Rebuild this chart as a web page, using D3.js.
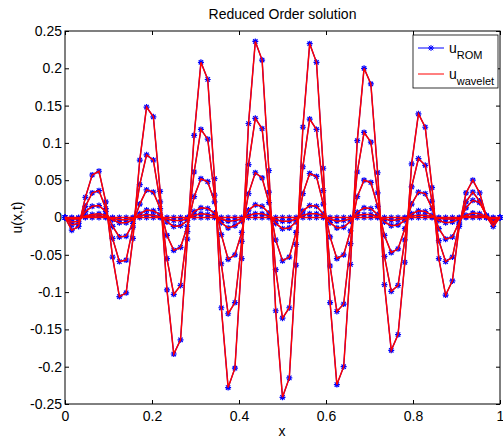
<!DOCTYPE html>
<html>
<head>
<meta charset="utf-8">
<script src="https://cdn.jsdelivr.net/npm/d3@7"></script>
<style>
  body { margin: 0; background: #fff; }
  text { font-family: "Liberation Sans", Arial, sans-serif; }
</style>
</head>
<body>
<div class="svgContainer"></div>
<script>
let xValues = [
  0, 0.015625, 0.03125, 0.046875, 0.0625, 0.078125, 0.09375, 0.109375,
  0.125, 0.140625, 0.15625, 0.171875, 0.1875, 0.203125, 0.21875, 0.234375,
  0.25, 0.265625, 0.28125, 0.296875, 0.3125, 0.328125, 0.34375, 0.359375,
  0.375, 0.390625, 0.40625, 0.421875, 0.4375, 0.453125, 0.46875, 0.484375,
  0.5, 0.515625, 0.53125, 0.546875, 0.5625, 0.578125, 0.59375, 0.609375,
  0.625, 0.640625, 0.65625, 0.671875, 0.6875, 0.703125, 0.71875, 0.734375,
  0.75, 0.765625, 0.78125, 0.796875, 0.8125, 0.828125, 0.84375, 0.859375,
  0.875, 0.890625, 0.90625, 0.921875, 0.9375, 0.953125, 0.96875, 0.984375,
  1
];

// snapshots of u(x,t), largest first
let snap1 = [
  0, -0.017, -0.012, 0.027, 0.057, 0.062, 0.021, -0.053,
  -0.106, -0.101, -0.028, 0.077, 0.148, 0.135, 0.035, -0.097,
  -0.183, -0.164, -0.029, 0.110, 0.208, 0.185, 0.052, -0.121,
  -0.228, -0.202, -0.055, 0.126, 0.236, 0.211, 0.063, -0.125,
  -0.241, -0.215, -0.064, 0.121, 0.233, 0.208, 0.066, -0.114,
  -0.224, -0.200, -0.063, 0.103, 0.200, 0.179, 0.060, -0.090,
  -0.178, -0.157, -0.060, 0.072, 0.139, 0.121, 0.040, -0.055,
  -0.104, -0.085, -0.012, 0.033, 0.050, 0.033, 0.001, -0.012,
  0
];
let snap2 = [
  0, -0.010, -0.008, 0.015, 0.033, 0.036, 0.012, -0.028,
  -0.059, -0.057, -0.013, 0.044, 0.084, 0.077, 0.021, -0.055,
  -0.103, -0.091, -0.019, 0.061, 0.118, 0.105, 0.030, -0.062,
  -0.129, -0.114, -0.032, 0.071, 0.133, 0.119, 0.034, -0.070,
  -0.135, -0.121, -0.036, 0.068, 0.132, 0.118, 0.036, -0.065,
  -0.126, -0.116, -0.035, 0.061, 0.114, 0.101, 0.033, -0.052,
  -0.099, -0.091, -0.030, 0.041, 0.079, 0.070, 0.022, -0.031,
  -0.059, -0.053, -0.009, 0.021, 0.034, 0.022, 0.002, -0.008,
  0
];
let snap3 = [
  0, -0.006, -0.005, 0.008, 0.015, 0.016, 0.008, -0.012,
  -0.026, -0.025, -0.008, 0.018, 0.037, 0.034, 0.012, -0.024,
  -0.044, -0.040, -0.012, 0.028, 0.052, 0.048, 0.021, -0.023,
  -0.056, -0.050, -0.020, 0.032, 0.060, 0.053, 0.020, -0.030,
  -0.058, -0.053, -0.020, 0.032, 0.059, 0.055, 0.018, -0.026,
  -0.055, -0.050, -0.018, 0.028, 0.050, 0.047, 0.015, -0.024,
  -0.047, -0.042, -0.015, 0.018, 0.034, 0.032, 0.012, -0.015,
  -0.029, -0.026, -0.006, 0.013, 0.023, 0.020, 0.003, -0.006,
  0
];
let snap4 = [
  0, -0.002, -0.002, 0.002, 0.004, 0.005, 0.003, -0.003,
  -0.007, -0.007, -0.003, 0.005, 0.010, 0.009, 0.004, -0.006,
  -0.012, -0.011, -0.004, 0.008, 0.013, 0.012, 0.006, -0.007,
  -0.014, -0.011, -0.005, 0.010, 0.017, 0.015, 0.006, -0.008,
  -0.015, -0.014, -0.006, 0.009, 0.016, 0.015, 0.005, -0.007,
  -0.014, -0.013, -0.005, 0.007, 0.013, 0.012, 0.004, -0.006,
  -0.011, -0.010, -0.004, 0.005, 0.009, 0.008, 0.003, -0.004,
  -0.007, -0.006, -0.002, 0.003, 0.006, 0.005, 0.001, -0.002,
  0
];
let snap5 = [
  0, -0.001, -0.001, 0.001, 0.002, 0.002, 0.001, -0.001,
  -0.003, -0.003, -0.001, 0.002, 0.004, 0.003, 0.001, -0.002,
  -0.004, -0.004, -0.001, 0.003, 0.005, 0.004, 0.002, -0.002,
  -0.005, -0.004, -0.002, 0.003, 0.005, 0.005, 0.002, -0.003,
  -0.005, -0.005, -0.002, 0.003, 0.005, 0.005, 0.002, -0.002,
  -0.005, -0.004, -0.002, 0.003, 0.004, 0.004, 0.001, -0.002,
  -0.004, -0.003, -0.001, 0.002, 0.003, 0.003, 0.001, -0.001,
  -0.002, -0.002, -0.001, 0.001, 0.002, 0.002, 0, -0.001,
  0
];
let snap6 = [
  0, 0, 0, 0, 0, 0, 0, 0,
  0, 0, 0, 0, 0, 0, 0, 0,
  0, 0, 0, 0, 0, 0, 0, 0,
  0, 0, 0, 0, 0, 0, 0, 0,
  0, 0, 0, 0, 0, 0, 0, 0,
  0, 0, 0, 0, 0, 0, 0, 0,
  0, 0, 0, 0, 0, 0, 0, 0,
  0, 0, 0, 0, 0, 0, 0, 0,
  0
];

let uRom = [snap6, snap5, snap4, snap3, snap2, snap1];
let uWavelet = [snap6, snap5, snap4, snap3, snap2, snap1];

let xTicks = [0, 0.2, 0.4, 0.6, 0.8, 1];
let xTickLabels = ["0", "0.2", "0.4", "0.6", "0.8", "1"];
let yTicks = [-0.25, -0.2, -0.15, -0.1, -0.05, 0, 0.05, 0.1, 0.15, 0.2, 0.25];
let yTickLabels = ["-0.25", "-0.2", "-0.15", "-0.1", "-0.05", "0", "0.05", "0.1", "0.15", "0.2", "0.25"];

let w = 503;
let h = 442;
let padLeft = 65, padRight = 500, padTop = 31, padBottom = 404;

let xScale = d3.scaleLinear().domain([0, 1]).range([padLeft, padRight]);
let yScale = d3.scaleLinear().domain([-0.25, 0.25]).range([padBottom, padTop]);

const svg = d3.select(".svgContainer")
    .append("svg")
    .attr("width", w)
    .attr("height", h)
    .style("display", "block")
    .style("background-color", "white");

const xLabel = (d) => xTickLabels[xTicks.indexOf(d)];
const yLabel = (d) => yTickLabels[yTicks.indexOf(d)];

svg.append("g")
    .attr("transform", `translate(0, ${padBottom})`)
    .call(d3.axisBottom(xScale).tickValues(xTicks).tickFormat(xLabel)
        .tickSizeInner(-4).tickSizeOuter(0).tickPadding(7));
svg.append("g")
    .attr("transform", `translate(0, ${padTop})`)
    .call(d3.axisTop(xScale).tickValues(xTicks).tickFormat("")
        .tickSizeInner(-4).tickSizeOuter(0));
svg.append("g")
    .attr("transform", `translate(${padLeft}, 0)`)
    .call(d3.axisLeft(yScale).tickValues(yTicks).tickFormat(yLabel)
        .tickSizeInner(-4).tickSizeOuter(0).tickPadding(3));
svg.append("g")
    .attr("transform", `translate(${padRight}, 0)`)
    .call(d3.axisRight(yScale).tickValues(yTicks).tickFormat("")
        .tickSizeInner(-4).tickSizeOuter(0));

svg.selectAll(".domain").remove();
svg.selectAll(".tick line").attr("stroke", "#000");
svg.selectAll(".tick text")
    .attr("fill", "#000")
    .style("font-size", "14px")
    .style("font-family", "'Liberation Sans', Arial, sans-serif");

svg.append("rect")
    .attr("x", padLeft)
    .attr("y", padTop)
    .attr("width", padRight - padLeft)
    .attr("height", padBottom - padTop)
    .attr("fill", "none")
    .attr("stroke", "#000")
    .attr("stroke-width", 1);

let line = d3.line()
    .x((d, i) => xScale(xValues[i]))
    .y((d) => yScale(d));

let star = "M-3,0L3,0M0,-3L0,3M-2.2,-2.2L2.2,2.2M-2.2,2.2L2.2,-2.2";

let plot = svg.append("g");

uRom.forEach((s) => {
    plot.append("path")
        .attr("d", line(s))
        .attr("fill", "none")
        .attr("stroke", "#0000ff")
        .attr("stroke-width", 1.2);
    plot.selectAll(null)
        .data(s)
        .enter()
        .append("path")
        .attr("d", star)
        .attr("transform", (d, i) => `translate(${xScale(xValues[i])}, ${yScale(d)})`)
        .attr("fill", "none")
        .attr("stroke", "#0000ff")
        .attr("stroke-width", 1.2);
});

uWavelet.forEach((s) => {
    plot.append("path")
        .attr("d", line(s))
        .attr("fill", "none")
        .attr("stroke", "#ff0000")
        .attr("stroke-width", 1.5);
});

svg.append("text")
    .attr("x", (padLeft + padRight) / 2)
    .attr("y", 19)
    .attr("text-anchor", "middle")
    .style("font-size", "14px")
    .text("Reduced Order solution");

svg.append("text")
    .attr("x", 282)
    .attr("y", 436)
    .attr("text-anchor", "middle")
    .style("font-size", "14px")
    .text("x");

svg.append("text")
    .attr("transform", `translate(22, ${yScale(0)}) rotate(-90)`)
    .attr("text-anchor", "middle")
    .style("font-size", "14px")
    .text("u(x,t)");

let legend = svg.append("g");
legend.append("rect")
    .attr("x", 413)
    .attr("y", 35)
    .attr("width", 85)
    .attr("height", 53)
    .attr("fill", "white")
    .attr("stroke", "#000")
    .attr("stroke-width", 0.8);

legend.append("line")
    .attr("x1", 418).attr("x2", 444)
    .attr("y1", 48).attr("y2", 48)
    .attr("stroke", "#0000ff")
    .attr("stroke-width", 1);
legend.append("path")
    .attr("d", star)
    .attr("transform", "translate(431, 48)")
    .attr("fill", "none")
    .attr("stroke", "#0000ff");
legend.append("line")
    .attr("x1", 418).attr("x2", 444)
    .attr("y1", 74).attr("y2", 74)
    .attr("stroke", "#ff0000")
    .attr("stroke-width", 1);

let t1 = legend.append("text").attr("x", 449).attr("y", 53).style("font-size", "14px");
t1.append("tspan").text("u");
t1.append("tspan").attr("dy", 6).style("font-size", "11px").text("ROM");

let t2 = legend.append("text").attr("x", 449).attr("y", 79).style("font-size", "14px");
t2.append("tspan").text("u");
t2.append("tspan").attr("dy", 6).style("font-size", "11px").text("wavelet");
</script>
</body>
</html>
